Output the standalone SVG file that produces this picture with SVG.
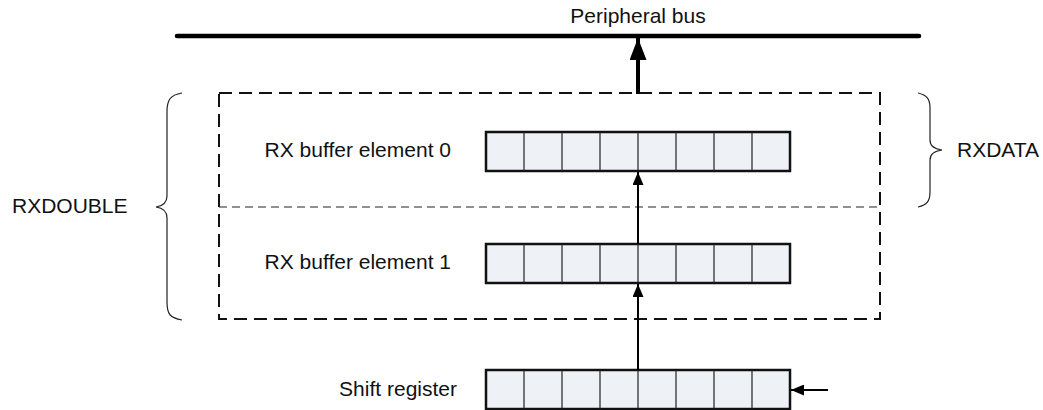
<svg xmlns="http://www.w3.org/2000/svg" width="1043" height="410" viewBox="0 0 1043 410">
<style>
text{font-family:"Liberation Sans",Arial,sans-serif;font-size:21px;fill:#111}
.box{fill:#eef1f6;stroke:#111;stroke-width:2.5}
.div{stroke:#222;stroke-width:1.2}
.dash{fill:none;stroke:#111;stroke-width:2;stroke-dasharray:13 7}
.dash2{fill:none;stroke:#222;stroke-width:1.2;stroke-dasharray:8 5}
.brace{fill:none;stroke:#222;stroke-width:1.2}
.wire{stroke:#000;stroke-width:2;fill:none}
</style>
<defs>
<marker id="ah" markerWidth="13" markerHeight="11" refX="13" refY="5.5" orient="auto" markerUnits="userSpaceOnUse">
<path d="M0,0 L13,5.5 L0,11 Z" fill="#000"/>
</marker>
<marker id="ahb" markerWidth="22" markerHeight="17" refX="22" refY="8.5" orient="auto" markerUnits="userSpaceOnUse">
<path d="M0,0 L22,8.5 L0,17 Z" fill="#000"/>
</marker>
<g id="cells">
<rect class="box" x="0" y="0" width="304" height="39"/>
<line class="div" x1="38" y1="0" x2="38" y2="39"/>
<line class="div" x1="76" y1="0" x2="76" y2="39"/>
<line class="div" x1="114" y1="0" x2="114" y2="39"/>
<line class="div" x1="152" y1="0" x2="152" y2="39"/>
<line class="div" x1="190" y1="0" x2="190" y2="39"/>
<line class="div" x1="228" y1="0" x2="228" y2="39"/>
<line class="div" x1="266" y1="0" x2="266" y2="39"/>
</g>
</defs>

<g id="bus">
<line x1="177" y1="36" x2="919" y2="36" stroke="#000" stroke-width="4.5" stroke-linecap="round"/>
<text x="638" y="23" text-anchor="middle">Peripheral bus</text>
</g>

<g id="rxdouble">
<rect class="dash" x="219" y="93" width="661" height="226"/>
<line class="dash2" x1="219" y1="207" x2="880" y2="207"/>
</g>

<g id="brace-left">
<path class="brace" d="M182,93 C170,95 167,100 167,112 L167,196 C167,203 163,206 156,207 C163,208 167,211 167,218 L167,302 C167,314 170,318 182,320"/>
<text x="12" y="213">RXDOUBLE</text>
</g>

<g id="brace-right">
<path class="brace" d="M918,93 C927,95 930,99 930,108 L930,140 C930,146 934,149 942,150 C934,151 930,154 930,160 L930,192 C930,201 927,205 918,207"/>
<text x="957" y="157">RXDATA</text>
</g>

<g id="buf0">
<use href="#cells" x="486" y="132"/>
<text x="451" y="157" text-anchor="end">RX buffer element 0</text>
</g>

<g id="buf1">
<use href="#cells" x="486" y="244"/>
<text x="451" y="269" text-anchor="end">RX buffer element 1</text>
</g>

<g id="shift">
<use href="#cells" x="486" y="370"/>
<text x="457" y="396" text-anchor="end">Shift register</text>
</g>

<g id="connectors">
<line x1="638" y1="94" x2="638" y2="38" stroke="#000" stroke-width="4" marker-end="url(#ahb)"/>
<line class="wire" x1="638" y1="244" x2="638" y2="172" marker-end="url(#ah)"/>
<line class="wire" x1="638" y1="370" x2="638" y2="284" marker-end="url(#ah)"/>
<line class="wire" x1="828" y1="390" x2="791" y2="390" marker-end="url(#ah)"/>
</g>
</svg>
